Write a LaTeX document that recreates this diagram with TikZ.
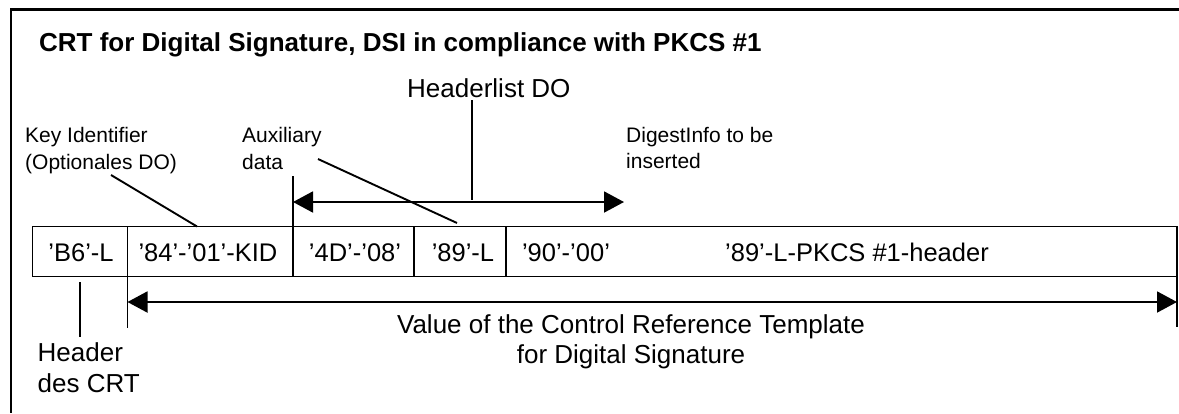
\documentclass[tikz,border=0pt]{standalone}
\usepackage{fontspec}
\setmainfont{Liberation Sans}
\usetikzlibrary{arrows.meta}
\begin{document}
\begin{tikzpicture}[x=1pt,y=-1pt,
  frame/.style={line width=2.5pt},
  rule/.style={line width=1.9pt},
  tip/.tip={Triangle[length=20pt,width=21pt]},
  span/.style={rule,tip-tip},
  heading/.style={font=\bfseries\fontsize{26}{30}\selectfont,inner sep=0pt,anchor=base west},
  big/.style={font=\fontsize{26}{30}\selectfont,inner sep=0pt},
  cell/.style={font=\fontsize{25.5}{30}\selectfont,inner sep=0pt,anchor=base},
  small/.style={font=\fontsize{21}{25}\selectfont,inner sep=0pt,anchor=base west},
]
\useasboundingbox (0,0) rectangle (1179,413);

% open frame: top and left edges only
\draw[frame] (1179,9.5) -- (11,9.5) -- (11,413);

\node[heading] (title) at (39,51) {CRT for Digital Signature, DSI in compliance with PKCS \#1};

% annotation labels above the record
\node[big,anchor=base west] (hdrlist) at (407,97) {Headerlist DO};
\node[small] (keyid1) at (25,142) {Key Identifier};
\node[small] (keyid2) at (25,169) {(Optionales DO)};
\node[small] (aux1) at (242,142) {Auxiliary};
\node[small] (aux2) at (242,169) {data};
\node[small] (dig1) at (626,142) {DigestInfo to be};
\node[small] (dig2) at (626,168) {inserted};

% the record and its fields
\coordinate (boxNW) at (32.5,226.5);
\coordinate (boxSE) at (1177,276.5);
\draw[rule] (boxNW) rectangle (boxSE);
\coordinate (d1t) at (127.5,226.5); \coordinate (d1b) at (127.5,328);
\coordinate (d2t) at (293,176);     \coordinate (d2b) at (293,276.5);
\coordinate (d3t) at (414,226.5);   \coordinate (d3b) at (414,276.5);
\coordinate (d4t) at (506,226.5);   \coordinate (d4b) at (506,276.5);
\coordinate (d5t) at (1177,276.5);  \coordinate (d5b) at (1177,327);
\draw[rule] (d1t) -- (d1b);
\draw[rule] (d2t) -- (d2b);
\draw[rule] (d3t) -- (d3b);
\draw[rule] (d4t) -- (d4b);
\draw[rule] (d5t) -- (d5b);

\node[cell] (f1) at (81,261) {’B6’-L};
\node[cell] (f2) at (208,261) {’84’-’01’-KID};
\node[cell] (f3) at (355,261) {’4D’-’08’};
\node[cell] (f4) at (463,261) {’89’-L};
\node[cell] (f5) at (566,261) {’90’-’00’};
\node[cell] (f6) at (857,261) {’89’-L-PKCS \#1-header};

% pointer lines from the labels
\coordinate (keyP) at (111,175);  \coordinate (keyQ) at (197,226.5);
\coordinate (auxP) at (318,159);  \coordinate (auxQ) at (457,223);
\draw[rule] (keyP) -- (keyQ);
\draw[rule] (auxP) -- (auxQ);

% extent of the header list
\coordinate (hlL) at (293,202);  \coordinate (hlR) at (624,202);
\draw[span] (hlL) -- (hlR);
\coordinate (hlT) at (472,100);  \coordinate (hlB) at (472,200);
\draw[rule] (hlT) -- (hlB);

% extent of the template value
\coordinate (valL) at (127.5,302);  \coordinate (valR) at (1177,302);
\draw[span] (valL) -- (valR);
\node[big,anchor=base] (val1) at (631,333) {Value of the Control Reference Template};
\node[big,anchor=base] (val2) at (631,363) {for Digital Signature};

% header of the template
\coordinate (hdT) at (80,282);  \coordinate (hdB) at (80,337);
\draw[rule] (hdT) -- (hdB);
\node[big,anchor=base west] (hd1) at (37.5,361.5) {Header};
\node[big,anchor=base west] (hd2) at (37.5,392.5) {des CRT};
\end{tikzpicture}
\end{document}
